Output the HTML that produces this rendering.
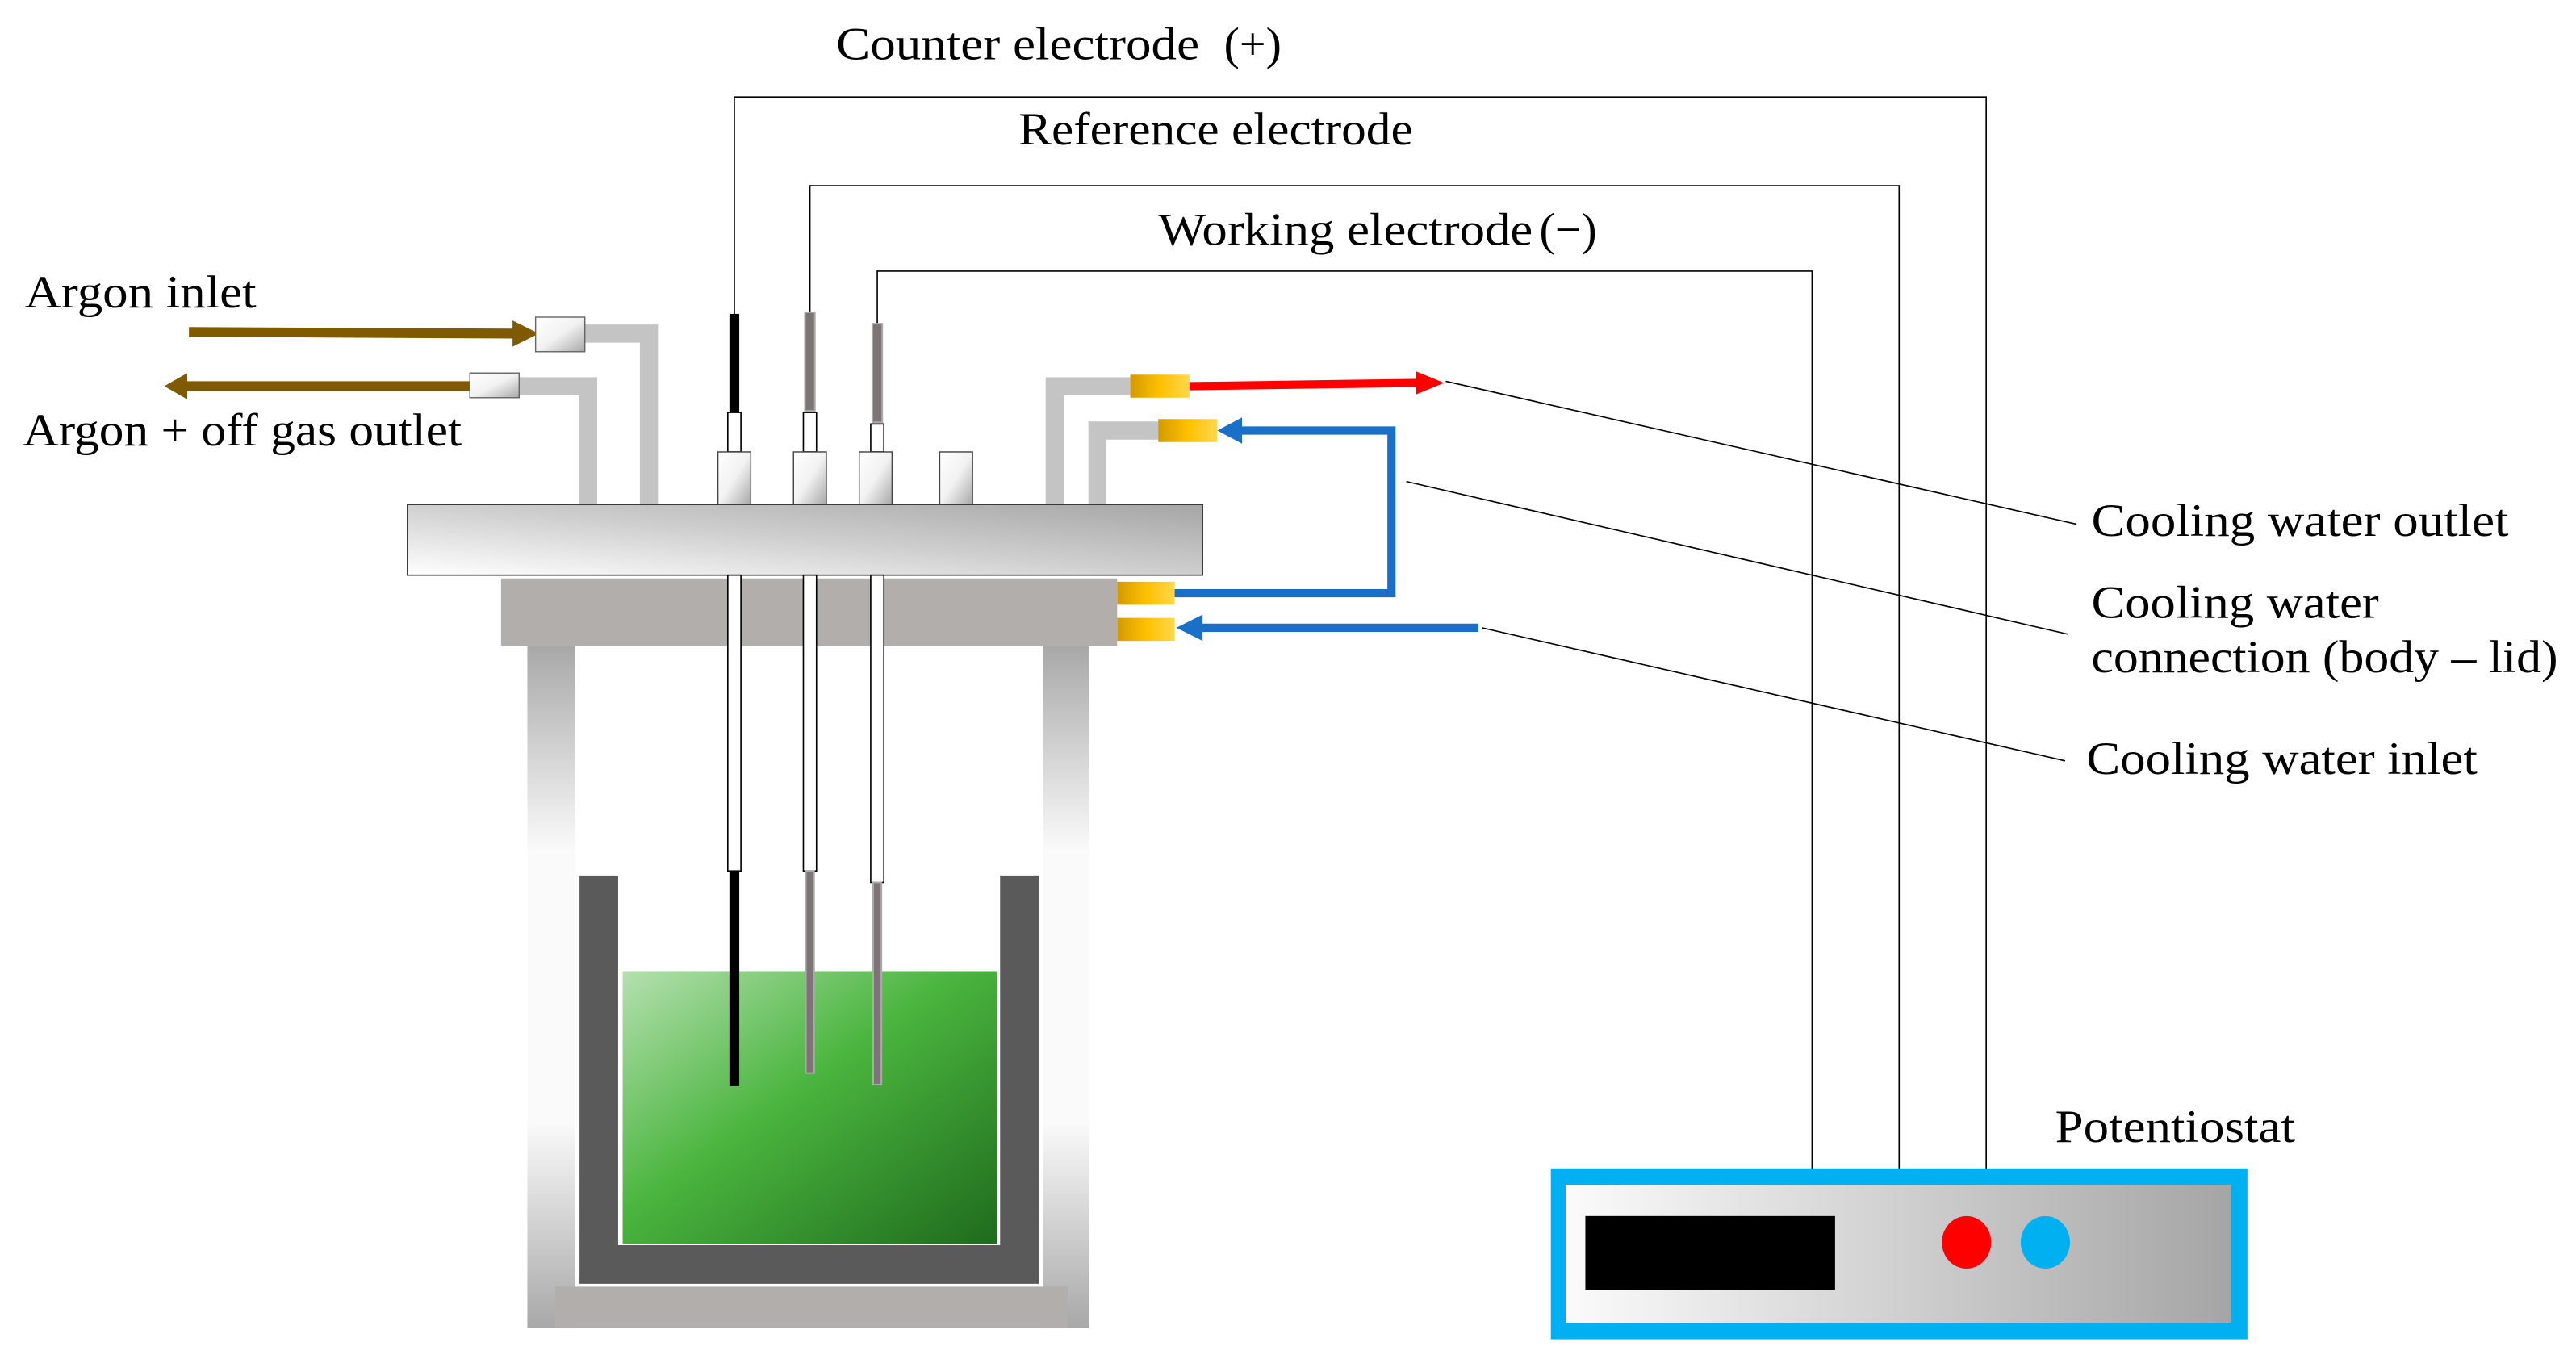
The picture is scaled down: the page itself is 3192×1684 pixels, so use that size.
<!DOCTYPE html>
<html><head><meta charset="utf-8"><style>
html,body{margin:0;padding:0;background:#fff;}
svg{display:block;}
text{font-family:"Liberation Serif",serif;fill:#000;}
</style></head><body>
<svg width="3192" height="1684" viewBox="0 0 1568 827" preserveAspectRatio="none" xmlns="http://www.w3.org/2000/svg">
<defs>
<linearGradient id="lid" x1="0" y1="1" x2="1" y2="0">
<stop offset="0" stop-color="#ffffff"/><stop offset="0.5" stop-color="#cfcfcf"/><stop offset="1" stop-color="#a5a5a5"/></linearGradient>
<linearGradient id="col" x1="0" y1="0" x2="0" y2="1">
<stop offset="0" stop-color="#a8a8a8"/><stop offset="0.3" stop-color="#fafafa"/><stop offset="0.7" stop-color="#fafafa"/><stop offset="1" stop-color="#a8a8a8"/></linearGradient>
<linearGradient id="green" x1="0" y1="0" x2="1" y2="1">
<stop offset="0" stop-color="#b5e0b0"/><stop offset="0.45" stop-color="#4ab53e"/><stop offset="1" stop-color="#1f6b1d"/></linearGradient>
<linearGradient id="box" x1="0" y1="0" x2="1" y2="1">
<stop offset="0" stop-color="#ffffff"/><stop offset="0.5" stop-color="#f2f2f2"/><stop offset="1" stop-color="#a8a8a8"/></linearGradient>
<linearGradient id="gold" x1="0" y1="0" x2="1" y2="0">
<stop offset="0" stop-color="#d39a00"/><stop offset="0.5" stop-color="#ffc000"/><stop offset="1" stop-color="#ffd84a"/></linearGradient>
<linearGradient id="pot" x1="0" y1="0" x2="1" y2="0">
<stop offset="0" stop-color="#fbfbfb"/><stop offset="1" stop-color="#a5a5a5"/></linearGradient>
</defs>

<g fill="none" stroke="#000" stroke-width="0.8">
<polyline points="447,192 447,59 1209,59 1209,712"/>
<polyline points="493,192 493,113 1156,113 1156,716"/>
<polyline points="534,197 534,165 1103,165 1103,712"/>
<line x1="880" y1="232" x2="1264" y2="319"/>
<line x1="856" y1="293" x2="1259" y2="386"/>
<line x1="902" y1="382" x2="1257" y2="463"/>
</g>

<g font-size="28">
<text x="509" y="36" textLength="221" lengthAdjust="spacingAndGlyphs">Counter electrode</text>
<text x="745" y="36" textLength="35" lengthAdjust="spacingAndGlyphs">(+)</text>
<text x="620" y="88" textLength="240" lengthAdjust="spacingAndGlyphs">Reference electrode</text>
<text x="705" y="149" textLength="228" lengthAdjust="spacingAndGlyphs">Working electrode</text>
<text x="937" y="149" textLength="35" lengthAdjust="spacingAndGlyphs">(−)</text>
<text x="15" y="187" textLength="141" lengthAdjust="spacingAndGlyphs">Argon inlet</text>
<text x="14" y="271" textLength="267" lengthAdjust="spacingAndGlyphs">Argon + off gas outlet</text>
<text x="1273" y="326" textLength="254" lengthAdjust="spacingAndGlyphs">Cooling water outlet</text>
<text x="1273" y="376" textLength="175" lengthAdjust="spacingAndGlyphs">Cooling water</text>
<text x="1273" y="409" textLength="284" lengthAdjust="spacingAndGlyphs">connection (body – lid)</text>
<text x="1270" y="471" textLength="238" lengthAdjust="spacingAndGlyphs">Cooling water inlet</text>
<text x="1251" y="695" textLength="146" lengthAdjust="spacingAndGlyphs">Potentiostat</text>
</g>

<g fill="none" stroke="#c4c4c4" stroke-width="11">
<polyline points="356,203 395,203 395,308"/>
<polyline points="316,235 358,235 358,308"/>
<polyline points="688,235 642,235 642,308"/>
<polyline points="705,262 668,262 668,308"/>
</g>
<line x1="115" y1="202" x2="314" y2="203" stroke="#7f5a00" stroke-width="6"/>
<polygon points="312,195 328,203 312,211" fill="#7f5a00"/>
<line x1="286" y1="235" x2="112" y2="235" stroke="#7f5a00" stroke-width="6"/>
<polygon points="114,227 100,235 114,243" fill="#7f5a00"/>
<rect x="326" y="193" width="30" height="21" fill="url(#box)" stroke="#666" stroke-width="0.7"/>
<rect x="286" y="227" width="30" height="15" fill="url(#box)" stroke="#666" stroke-width="0.7"/>

<rect x="444" y="191" width="6" height="60" fill="#000"/>
<rect x="490" y="190" width="6" height="60" fill="#7d7575" stroke="#aaa" stroke-width="1"/>
<rect x="531" y="197" width="6" height="60" fill="#7d7575" stroke="#aaa" stroke-width="1"/>
<rect x="443" y="251" width="8" height="24" fill="#fff" stroke="#000" stroke-width="0.8"/>
<rect x="489" y="251" width="8" height="24" fill="#fff" stroke="#000" stroke-width="0.8"/>
<rect x="530" y="258" width="8" height="17" fill="#fff" stroke="#000" stroke-width="0.8"/>
<g fill="url(#box)" stroke="#444" stroke-width="0.7">
<rect x="437" y="275" width="20" height="32"/>
<rect x="483" y="275" width="20" height="32"/>
<rect x="523" y="275" width="20" height="32"/>
<rect x="572" y="275" width="20" height="32"/>
</g>

<line x1="724" y1="235" x2="864" y2="233" stroke="#ff0000" stroke-width="5"/>
<polygon points="862,226 879,233 862,240" fill="#ff0000"/>
<polyline points="715,361 847,361 847,262 754,262" fill="none" stroke="#1a6fc9" stroke-width="5"/>
<polygon points="756,254 741,262 756,270" fill="#1a6fc9"/>
<line x1="900" y1="382" x2="730" y2="382" stroke="#1a6fc9" stroke-width="5"/>
<polygon points="732,374 716,382 732,390" fill="#1a6fc9"/>
<rect x="688" y="228" width="36" height="14" fill="url(#gold)"/>
<rect x="705" y="255" width="36" height="14" fill="url(#gold)"/>
<rect x="680" y="354" width="35" height="14" fill="url(#gold)"/>
<rect x="680" y="376" width="35" height="14" fill="url(#gold)"/>

<rect x="248" y="307" width="484" height="43" fill="url(#lid)" stroke="#333" stroke-width="0.8"/>
<rect x="305" y="352" width="375" height="41" fill="#b2aeab"/>

<rect x="321" y="393" width="29" height="415" fill="url(#col)"/>
<rect x="635" y="393" width="28" height="415" fill="url(#col)"/>
<rect x="338" y="783" width="312" height="25" fill="#b2aeab"/>
<path d="M352,532 H377 V757 H608 V532 H633 V782 H352 Z" fill="#5a5a5a" stroke="#fff" stroke-width="1.5"/>
<rect x="379" y="591" width="228" height="166" fill="url(#green)"/>

<rect x="443" y="350" width="8" height="180" fill="#fff" stroke="#000" stroke-width="0.8"/>
<rect x="489" y="350" width="8" height="180" fill="#fff" stroke="#000" stroke-width="0.8"/>
<rect x="530" y="350" width="8" height="187" fill="#fff" stroke="#000" stroke-width="0.8"/>
<rect x="444" y="530" width="6" height="131" fill="#000"/>
<rect x="490.5" y="530" width="5" height="123" fill="#7d7575" stroke="#aaa" stroke-width="1"/>
<rect x="531.5" y="537" width="5" height="123" fill="#7d7575" stroke="#aaa" stroke-width="1"/>

<rect x="944" y="711" width="424" height="104" fill="#00b0f0"/>
<rect x="953" y="721" width="405" height="84" fill="url(#pot)"/>
<rect x="965" y="740" width="152" height="45" fill="#000"/>
<ellipse cx="1197" cy="756" rx="15" ry="16" fill="#ff0000"/>
<ellipse cx="1245" cy="756" rx="15" ry="16" fill="#00b0f0"/>
</svg>
</body></html>
